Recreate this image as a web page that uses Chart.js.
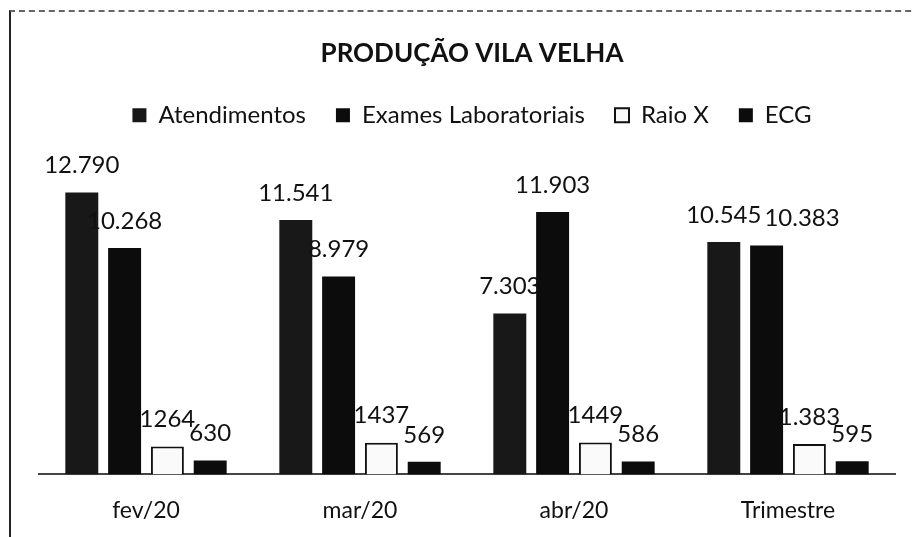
<!DOCTYPE html>
<html>
<head>
<meta charset="utf-8">
<script src="https://cdn.jsdelivr.net/npm/chart.js@4/dist/chart.umd.min.js"></script>
<style>
    html, body { margin: 0; padding: 0; background: #fff; overflow: hidden; width: 913px; height: 537px; }
    #moldura {
        position: absolute; left: 9px; top: 10px; width: 930px; height: 545px;
        border-top: 2px dashed #666; border-left: 2px solid #222;
    }
    #caixa { position: absolute; left: 0; top: 0; width: 920px; height: 534px; }
</style>
</head>
<body>
<div id="moldura"><div id="caixa"><canvas id="chart"></canvas></div></div>
<script>
var categorias = ['fev/20', 'mar/20', 'abr/20', 'Trimestre'];
var atendimentos = [12790, 11541, 7303, 10545];
var exames = [10268, 8979, 11903, 10383];
var raioX = [1264, 1437, 1449, 1383];
var ecg = [630, 569, 586, 595];
// rotulos como aparecem na planilha (formato misturado)
var rotAtendimentos = ['12.790', '11.541', '7.303', '10.545'];
var rotExames = ['10.268', '8.979', '11.903', '10.383'];
var rotRaioX = ['1264', '1437', '1449', '1.383'];
var rotEcg = ['630', '569', '586', '595'];

var rotulos = [rotAtendimentos, rotExames, rotRaioX, rotEcg];

// desenha os valores em cima das barras, empurrando para a direita quando encostam muito
var pluginRotulos = {
    id: 'rotulos',
    afterDatasetsDraw: function (chart) {
        var ctx = chart.ctx;
        ctx.save();
        ctx.font = '24px Lato';
        ctx.fillStyle = '#111';
        ctx.textAlign = 'center';
        ctx.textBaseline = 'middle';
        var n = chart.data.labels.length;
        for (var j = 0; j < n; j++) {
            var anterior = null;
            for (var i = 0; i < chart.data.datasets.length; i++) {
                var barra = chart.getDatasetMeta(i).data[j];
                var texto = rotulos[i][j];
                var larg = ctx.measureText(texto).width;
                var x = barra.x;
                var y = barra.y - 27;
                if (anterior && Math.abs(anterior.y - y) < 15 && x - larg / 2 < anterior.dir - 10) {
                    x = anterior.dir + 3 + larg / 2;
                }
                ctx.fillText(texto, x, y);
                anterior = { dir: x + larg / 2, y: y };
            }
        }
        ctx.restore();
    }
};

var datos = {
    type: 'bar',
    data: {
        labels: categorias,
        datasets: [{
            label: 'Atendimentos',
            data: atendimentos,
            backgroundColor: '#181818',
            borderColor: '#181818',
            borderWidth: 0
        }, {
            label: 'Exames Laboratoriais',
            data: exames,
            backgroundColor: '#0c0c0c',
            borderColor: '#0c0c0c',
            borderWidth: 0
        }, {
            label: 'Raio X',
            data: raioX,
            backgroundColor: '#fafafa',
            borderColor: '#111',
            borderWidth: 2
        }, {
            label: 'ECG',
            data: ecg,
            backgroundColor: '#0c0c0c',
            borderColor: '#0c0c0c',
            borderWidth: 0
        }]
    },
    options: {
        responsive: true,
        maintainAspectRatio: false,
        animation: false,
        categoryPercentage: 0.8,
        barPercentage: 0.77,
        layout: { padding: { left: 28, right: 26, top: 0, bottom: 0 } },
        plugins: {
            title: {
                display: true,
                text: 'PRODUÇÃO VILA VELHA',
                color: '#111',
                font: { family: 'Lato', size: 26, weight: 'bold' },
                padding: { top: 26, bottom: 4 }
            },
            legend: {
                position: 'top',
                labels: {
                    color: '#111',
                    font: { family: 'Lato', size: 24 },
                    boxWidth: 14,
                    boxHeight: 14,
                    padding: 30
                }
            },
            tooltip: { enabled: false }
        },
        scales: {
            x: {
                grid: { display: false, drawTicks: false },
                border: { display: true, color: '#444', width: 2 },
                ticks: {
                    color: '#111',
                    font: { family: 'Lato', size: 23 },
                    padding: 22
                }
            },
            y: {
                position: 'right',
                min: 0,
                max: 15300,
                grid: { display: false },
                border: { display: false },
                ticks: { display: false },
                afterFit: function (escala) { escala.width = 10; }
            }
        }
    },
    plugins: [pluginRotulos]
};

var canvas = document.getElementById('chart').getContext('2d');
window.barras = new Chart(canvas, datos);
</script>
</body>
</html>
